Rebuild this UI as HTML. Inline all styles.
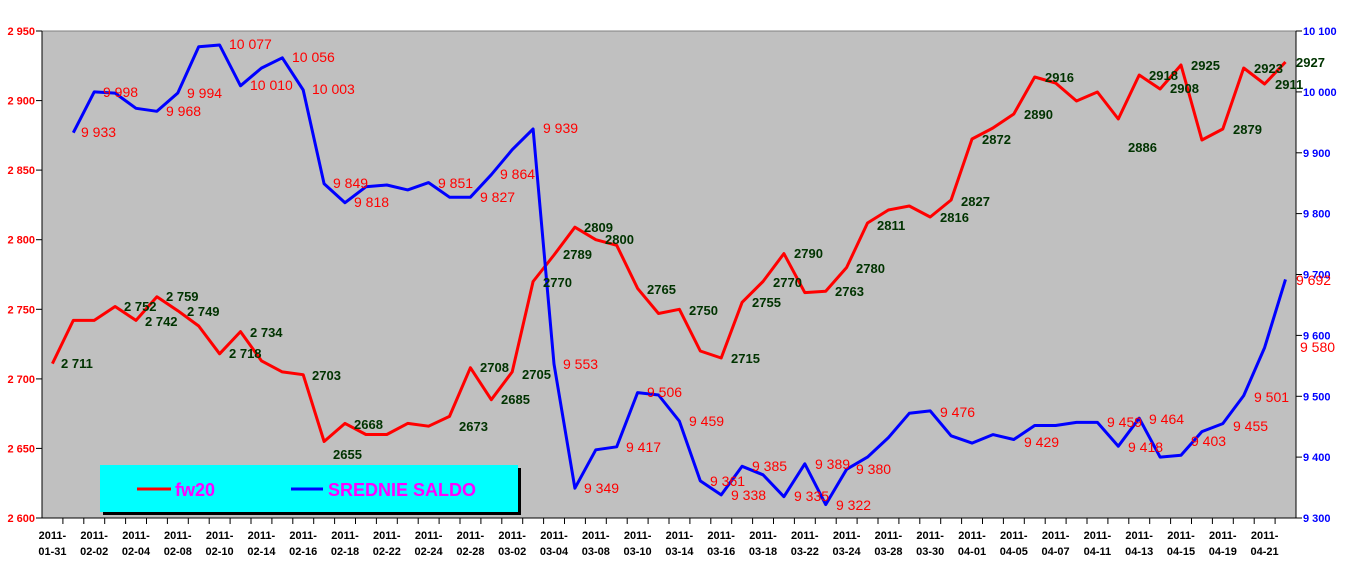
<!DOCTYPE html>
<html><head><meta charset="utf-8"><style>
html,body{margin:0;padding:0;background:#fff;}
svg{display:block;font-family:"Liberation Sans",Arial,sans-serif;}
.yl{font-size:11px;font-weight:bold;fill:#ff0000;}
.yr{font-size:11px;font-weight:bold;fill:#0000ff;}
.xl{font-size:11px;font-weight:bold;fill:#000;}
.g{font-size:13px;font-weight:bold;fill:#003300;}
.r{font-size:14px;fill:#ff0000;}
</style></head><body>
<svg width="1362" height="572" viewBox="0 0 1362 572">
<rect x="0" y="0" width="1362" height="572" fill="#fff"/>
<rect x="42" y="31" width="1254" height="487" fill="#c0c0c0"/>
<line x1="42" y1="31" x2="1296" y2="31" stroke="#808080" stroke-width="1"/>
<line x1="42" y1="31" x2="42" y2="518" stroke="#000" stroke-width="1"/>
<line x1="1296" y1="31" x2="1296" y2="518" stroke="#000" stroke-width="1"/>
<line x1="42" y1="518" x2="1296" y2="518" stroke="#000" stroke-width="1"/>
<g stroke="#000" stroke-width="1">
<line x1="36" y1="31" x2="42" y2="31"/><line x1="36" y1="100.6" x2="42" y2="100.6"/><line x1="36" y1="170.1" x2="42" y2="170.1"/><line x1="36" y1="239.7" x2="42" y2="239.7"/><line x1="36" y1="309.3" x2="42" y2="309.3"/><line x1="36" y1="378.9" x2="42" y2="378.9"/><line x1="36" y1="448.4" x2="42" y2="448.4"/><line x1="36" y1="518" x2="42" y2="518"/>
<line x1="1296" y1="31" x2="1302" y2="31"/><line x1="1296" y1="91.9" x2="1302" y2="91.9"/><line x1="1296" y1="152.8" x2="1302" y2="152.8"/><line x1="1296" y1="213.6" x2="1302" y2="213.6"/><line x1="1296" y1="274.5" x2="1302" y2="274.5"/><line x1="1296" y1="335.4" x2="1302" y2="335.4"/><line x1="1296" y1="396.3" x2="1302" y2="396.3"/><line x1="1296" y1="457.1" x2="1302" y2="457.1"/><line x1="1296" y1="518" x2="1302" y2="518"/>
</g>
<g stroke="#000" stroke-width="1" id="xt">
<path d="M62.9 518v6M83.8 518v6M104.7 518v6M125.6 518v6M146.5 518v6M167.4 518v6M188.3 518v6M209.2 518v6M230.1 518v6M251 518v6M271.9 518v6M292.8 518v6M313.7 518v6M334.6 518v6M355.5 518v6M376.4 518v6M397.3 518v6M418.2 518v6M439.1 518v6M460 518v6M480.9 518v6M501.8 518v6M522.7 518v6M543.6 518v6M564.5 518v6M585.4 518v6M606.3 518v6M627.2 518v6M648.1 518v6M669 518v6M689.9 518v6M710.8 518v6M731.7 518v6M752.6 518v6M773.5 518v6M794.4 518v6M815.3 518v6M836.2 518v6M857.1 518v6M878 518v6M898.9 518v6M919.8 518v6M940.7 518v6M961.6 518v6M982.5 518v6M1003.4 518v6M1024.3 518v6M1045.2 518v6M1066.1 518v6M1087 518v6M1107.9 518v6M1128.8 518v6M1149.7 518v6M1170.6 518v6M1191.5 518v6M1212.4 518v6M1233.3 518v6M1254.2 518v6M1275.1 518v6"/>
</g>
<g class="yl" text-anchor="end">
<text x="35" y="35">2 950</text><text x="35" y="104.6">2 900</text><text x="35" y="174.1">2 850</text><text x="35" y="243.7">2 800</text><text x="35" y="313.3">2 750</text><text x="35" y="382.9">2 700</text><text x="35" y="452.4">2 650</text><text x="35" y="522">2 600</text>
</g>
<g class="yr">
<text x="1303" y="35">10 100</text><text x="1303" y="95.9">10 000</text><text x="1303" y="156.8">9 900</text><text x="1303" y="217.6">9 800</text><text x="1303" y="278.5">9 700</text><text x="1303" y="339.4">9 600</text><text x="1303" y="400.3">9 500</text><text x="1303" y="461.1">9 400</text><text x="1303" y="522">9 300</text>
</g>
<g class="xl" text-anchor="middle">
<text x="52.4" y="539">2011-</text><text x="52.4" y="555">01-31</text>
<text x="94.2" y="539">2011-</text><text x="94.2" y="555">02-02</text>
<text x="136" y="539">2011-</text><text x="136" y="555">02-04</text>
<text x="177.8" y="539">2011-</text><text x="177.8" y="555">02-08</text>
<text x="219.6" y="539">2011-</text><text x="219.6" y="555">02-10</text>
<text x="261.4" y="539">2011-</text><text x="261.4" y="555">02-14</text>
<text x="303.2" y="539">2011-</text><text x="303.2" y="555">02-16</text>
<text x="345" y="539">2011-</text><text x="345" y="555">02-18</text>
<text x="386.8" y="539">2011-</text><text x="386.8" y="555">02-22</text>
<text x="428.6" y="539">2011-</text><text x="428.6" y="555">02-24</text>
<text x="470.4" y="539">2011-</text><text x="470.4" y="555">02-28</text>
<text x="512.2" y="539">2011-</text><text x="512.2" y="555">03-02</text>
<text x="554" y="539">2011-</text><text x="554" y="555">03-04</text>
<text x="595.8" y="539">2011-</text><text x="595.8" y="555">03-08</text>
<text x="637.6" y="539">2011-</text><text x="637.6" y="555">03-10</text>
<text x="679.4" y="539">2011-</text><text x="679.4" y="555">03-14</text>
<text x="721.2" y="539">2011-</text><text x="721.2" y="555">03-16</text>
<text x="763" y="539">2011-</text><text x="763" y="555">03-18</text>
<text x="804.8" y="539">2011-</text><text x="804.8" y="555">03-22</text>
<text x="846.6" y="539">2011-</text><text x="846.6" y="555">03-24</text>
<text x="888.4" y="539">2011-</text><text x="888.4" y="555">03-28</text>
<text x="930.2" y="539">2011-</text><text x="930.2" y="555">03-30</text>
<text x="972" y="539">2011-</text><text x="972" y="555">04-01</text>
<text x="1013.8" y="539">2011-</text><text x="1013.8" y="555">04-05</text>
<text x="1055.6" y="539">2011-</text><text x="1055.6" y="555">04-07</text>
<text x="1097.4" y="539">2011-</text><text x="1097.4" y="555">04-11</text>
<text x="1139.2" y="539">2011-</text><text x="1139.2" y="555">04-13</text>
<text x="1181" y="539">2011-</text><text x="1181" y="555">04-15</text>
<text x="1222.8" y="539">2011-</text><text x="1222.8" y="555">04-19</text>
<text x="1264.6" y="539">2011-</text><text x="1264.6" y="555">04-21</text>
</g>
<polyline fill="none" stroke="#ff0000" stroke-width="3" stroke-linejoin="round" points="52.4,363.6 73.3,320.4 94.2,320.4 115.1,306.5 136,320.4 156.9,296.8 177.8,310.7 198.7,326 219.6,353.8 240.5,331.6 261.4,360.8 282.3,371.9 303.2,374.7 324.1,441.5 345,423.4 365.9,434.5 386.8,434.5 407.7,423.4 428.6,426.2 449.5,416.4 470.4,367.7 491.3,399.7 512.2,371.9 533.1,281.5 554,255 574.9,227.2 595.8,239.7 616.7,245.3 637.6,288.4 658.5,313.5 679.4,309.3 700.3,351 721.2,358 742.1,302.3 763,281.5 783.9,253.6 804.8,292.6 825.7,291.2 846.6,267.5 867.5,223 888.4,210 909.3,206 930.2,217 951.1,200 972,139 992.9,128 1013.8,114 1034.7,77 1055.6,83 1076.5,101 1097.4,92 1118.3,119 1139.2,75 1160.1,89 1181,65 1201.9,140 1222.8,129 1243.7,68 1264.6,84 1285.5,62"/>
<polyline fill="none" stroke="#0000ff" stroke-width="3" stroke-linejoin="round" points="73.3,132.7 94.2,91.9 115.1,93.1 136,108.3 156.9,111.3 177.8,93 198.7,46.8 219.6,45 240.5,85.8 261.4,68.1 282.3,57.8 303.2,90 324.1,183.8 345,202.7 365.9,186.8 386.8,185 407.7,189.9 428.6,182.6 449.5,197.2 470.4,197.2 491.3,174.7 512.2,149.7 533.1,129 554,364 574.9,488.2 595.8,449.8 616.7,446.8 637.6,392.6 658.5,395 679.4,421.2 700.3,480.9 721.2,494.9 742.1,466.3 763,474.8 783.9,496.7 804.8,463.8 825.7,504.6 846.6,469.3 867.5,457.1 888.4,437.6 909.3,413.3 930.2,410.9 951.1,435.8 972,443.1 992.9,434.6 1013.8,439.5 1034.7,425.5 1055.6,425.5 1076.5,422.4 1097.4,422.4 1118.3,446.2 1139.2,418.2 1160.1,457.1 1181,455.3 1201.9,431.6 1222.8,423.6 1243.7,395.6 1264.6,347.6 1285.5,279.4"/>
<g class="g">
<text x="61" y="368">2 711</text><text x="124" y="311">2 752</text><text x="145" y="326">2 742</text><text x="166" y="301">2 759</text><text x="187" y="316">2 749</text><text x="229" y="358">2 718</text><text x="250" y="337">2 734</text><text x="312" y="380">2703</text><text x="333" y="459">2655</text><text x="354" y="429">2668</text><text x="459" y="431">2673</text><text x="480" y="372">2708</text><text x="501" y="404">2685</text><text x="522" y="379">2705</text><text x="543" y="287">2770</text><text x="563" y="259">2789</text><text x="584" y="232">2809</text><text x="605" y="244">2800</text><text x="647" y="294">2765</text><text x="689" y="315">2750</text><text x="731" y="363">2715</text><text x="752" y="307">2755</text><text x="773" y="287">2770</text><text x="794" y="258">2790</text><text x="835" y="296">2763</text><text x="856" y="273">2780</text><text x="877" y="230">2811</text><text x="940" y="222">2816</text><text x="961" y="206">2827</text><text x="982" y="144">2872</text><text x="1024" y="119">2890</text><text x="1045" y="82">2916</text><text x="1128" y="152">2886</text><text x="1149" y="80">2918</text><text x="1170" y="93">2908</text><text x="1191" y="70">2925</text><text x="1233" y="134">2879</text><text x="1254" y="73">2923</text><text x="1275" y="89">2911</text><text x="1296" y="67">2927</text>
</g>
<g class="r">
<text x="81" y="137">9 933</text><text x="103" y="97">9 998</text><text x="166" y="116">9 968</text><text x="187" y="98">9 994</text><text x="229" y="49">10 077</text><text x="250" y="90">10 010</text><text x="292" y="62">10 056</text><text x="312" y="94">10 003</text><text x="333" y="188">9 849</text><text x="354" y="207">9 818</text><text x="438" y="188">9 851</text><text x="480" y="202">9 827</text><text x="500" y="179">9 864</text><text x="543" y="133">9 939</text><text x="563" y="369">9 553</text><text x="584" y="493">9 349</text><text x="626" y="452">9 417</text><text x="647" y="397">9 506</text><text x="689" y="426">9 459</text><text x="710" y="486">9 361</text><text x="731" y="500">9 338</text><text x="752" y="471">9 385</text><text x="794" y="501">9 335</text><text x="815" y="469">9 389</text><text x="836" y="510">9 322</text><text x="856" y="474">9 380</text><text x="940" y="417">9 476</text><text x="1024" y="447">9 429</text><text x="1107" y="427">9 459</text><text x="1128" y="452">9 418</text><text x="1149" y="424">9 464</text><text x="1191" y="446">9 403</text><text x="1233" y="431">9 455</text><text x="1254" y="402">9 501</text><text x="1300" y="352">9 580</text><text x="1296" y="285">9 692</text>
</g>
<rect x="103" y="468" width="418" height="47" fill="#000"/>
<rect x="100" y="465" width="418" height="47" fill="#00ffff"/>
<line x1="137" y1="489" x2="171" y2="489" stroke="#ff0000" stroke-width="3"/>
<line x1="291" y1="489" x2="323" y2="489" stroke="#0000ff" stroke-width="3"/>
<text x="175" y="496" font-size="18" font-weight="bold" fill="#ff00ff">fw20</text>
<text x="328" y="496" font-size="18" font-weight="bold" fill="#ff00ff">SREDNIE SALDO</text>
</svg>
</body></html>
